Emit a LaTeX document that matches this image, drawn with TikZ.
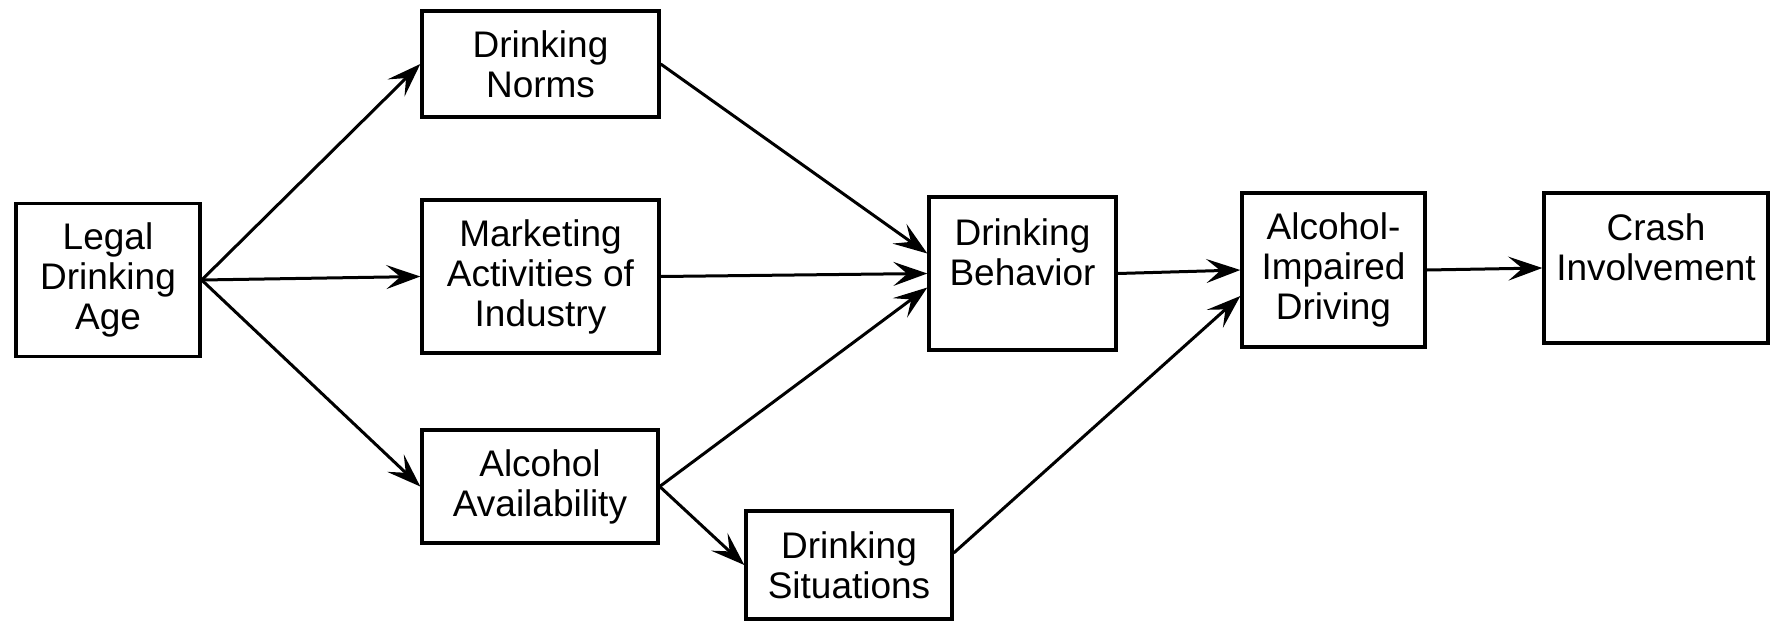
\documentclass[tikz,border=0pt]{standalone}
\usepackage{fontspec}
\setmainfont{Liberation Sans}
\usetikzlibrary{arrows.meta}
\begin{document}
\begin{tikzpicture}[x=0.5pt,y=-0.5pt,
  box/.style={draw, line width=1.7pt, rectangle, inner sep=0pt, align=center,
    font=\fontsize{18.5}{20}\selectfont},
  lbl/.style={font=\fontsize{18.5}{20}\selectfont, align=center, anchor=north},
  arr/.style={line width=1.5pt,
    -{Stealth[length=17pt,width=12pt,inset=7pt]}}
]
\useasboundingbox (0,0) rectangle (1770,621);
\node[box, minimum width=92pt, minimum height=76.5pt] (legal) at (108,280) {Legal\\Drinking\\Age};
\node[box, minimum width=118.5pt, minimum height=53pt] (norms) at (540.5,64) {Drinking\\Norms};
\node[box, minimum width=118.5pt, minimum height=76.5pt] (market) at (540.5,276.5) {Marketing\\Activities of\\Industry};
\node[box, minimum width=118pt, minimum height=56.5pt] (avail) at (540,486.5) {Alcohol\\Availability};
\node[box, minimum width=103pt, minimum height=54pt] (situ) at (849,565) {Drinking\\Situations};
\node[box, minimum width=93.5pt, minimum height=76.5pt] (behav) at (1022.5,273.5) {};
\node[lbl] (behavtext) at (1022.5,212) {Drinking\\Behavior};
\node[box, minimum width=91.5pt, minimum height=77pt] (impair) at (1333.5,270) {Alcohol-\\Impaired\\Driving};
\node[box, minimum width=112pt, minimum height=75pt] (crash) at (1656,268) {};
\node[lbl] (crashtext) at (1656,207) {Crash\\Involvement};

\draw[arr] (legal.east) -- (norms.west);
\draw[arr] (legal.east) -- (market.west);
\draw[arr] (legal.east) -- (avail.west);
\draw[arr] (norms.east) -- ([yshift=10pt]behav.west);
\draw[arr] (market.east) -- (behav.west);
\draw[arr] (avail.east) -- ([yshift=-7pt]behav.west);
\draw[arr] (avail.east) -- (situ.west);
\draw[arr] ([yshift=6pt]situ.east) -- ([yshift=-13pt]impair.west);
\draw[arr] (behav.east) -- (impair.west);
\draw[arr] (impair.east) -- (crash.west);
\end{tikzpicture}
\end{document}
